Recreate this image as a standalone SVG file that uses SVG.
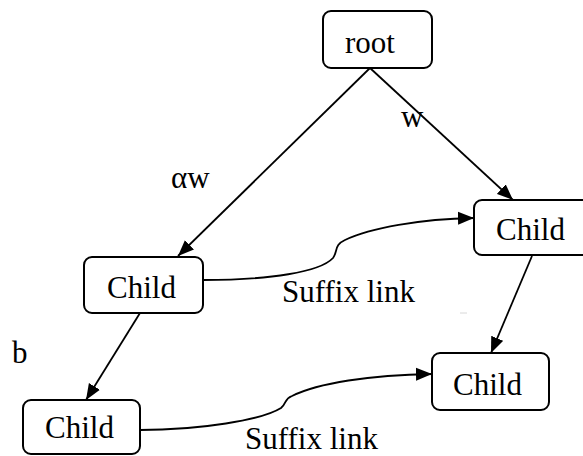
<svg xmlns="http://www.w3.org/2000/svg" width="583" height="456" viewBox="0 0 583 456" font-family="Liberation Serif, serif" font-size="31">
  <style>
    .box { fill: #ffffff; stroke: #000000; stroke-width: 2; }
    .edge { fill: none; stroke: #000000; stroke-width: 1.8; marker-end: url(#arrow); }
  </style>
  <defs>
    <marker id="arrow" markerUnits="userSpaceOnUse" markerWidth="17" markerHeight="14" refX="16" refY="7" orient="auto">
      <path d="M0,0.5 L16,7 L0,13.5 z" fill="#000000"/>
    </marker>
  </defs>

  <!-- connectors -->
  <g id="connectors">
    <path class="edge" d="M370,68 L178,256"/>
    <path class="edge" d="M370,68 L513,200"/>
    <path class="edge" d="M140,313 L86,400"/>
    <path class="edge" d="M532,256 L491,353"/>
    <path class="edge" d="M203,280 C270,280 320,272 333,258 C338,251 334,245 345,240 C370,228 420,219 474,218"/>
    <path class="edge" d="M140,430 C200,430 262,420 281,408 C287,403 284,399 292,396 C318,383 370,375 432,374"/>
  </g>

  <!-- edge labels -->
  <g id="labels" font-family="Liberation Serif, serif" font-size="31">
    <text x="171" y="188">αw</text>
    <text x="401" y="127">w</text>
    <text x="12" y="363">b</text>
    <text x="282" y="302">Suffix link</text>
    <text x="245" y="449">Suffix link</text>
  </g>
  <line x1="460" y1="313" x2="467" y2="313" stroke="#d8d8d8" stroke-width="1"/>

  <!-- nodes -->
  <g id="node-root" font-family="Liberation Serif, serif">
    <rect class="box" x="323" y="11" width="109" height="57" rx="8"/>
    <text x="345" y="53">root</text>
  </g>
  <g id="node-child-a" font-family="Liberation Serif, serif">
    <rect class="box" x="84" y="257" width="119" height="56" rx="8"/>
    <text x="107" y="298">Child</text>
  </g>
  <g id="node-child-b" font-family="Liberation Serif, serif">
    <rect class="box" x="474" y="200" width="117" height="55" rx="8"/>
    <text x="496" y="240">Child</text>
  </g>
  <g id="node-child-c" font-family="Liberation Serif, serif">
    <rect class="box" x="23" y="400" width="117" height="54" rx="8"/>
    <text x="45" y="438">Child</text>
  </g>
  <g id="node-child-d" font-family="Liberation Serif, serif">
    <rect class="box" x="432" y="353" width="117" height="57" rx="8"/>
    <text x="453" y="395">Child</text>
  </g>
</svg>
